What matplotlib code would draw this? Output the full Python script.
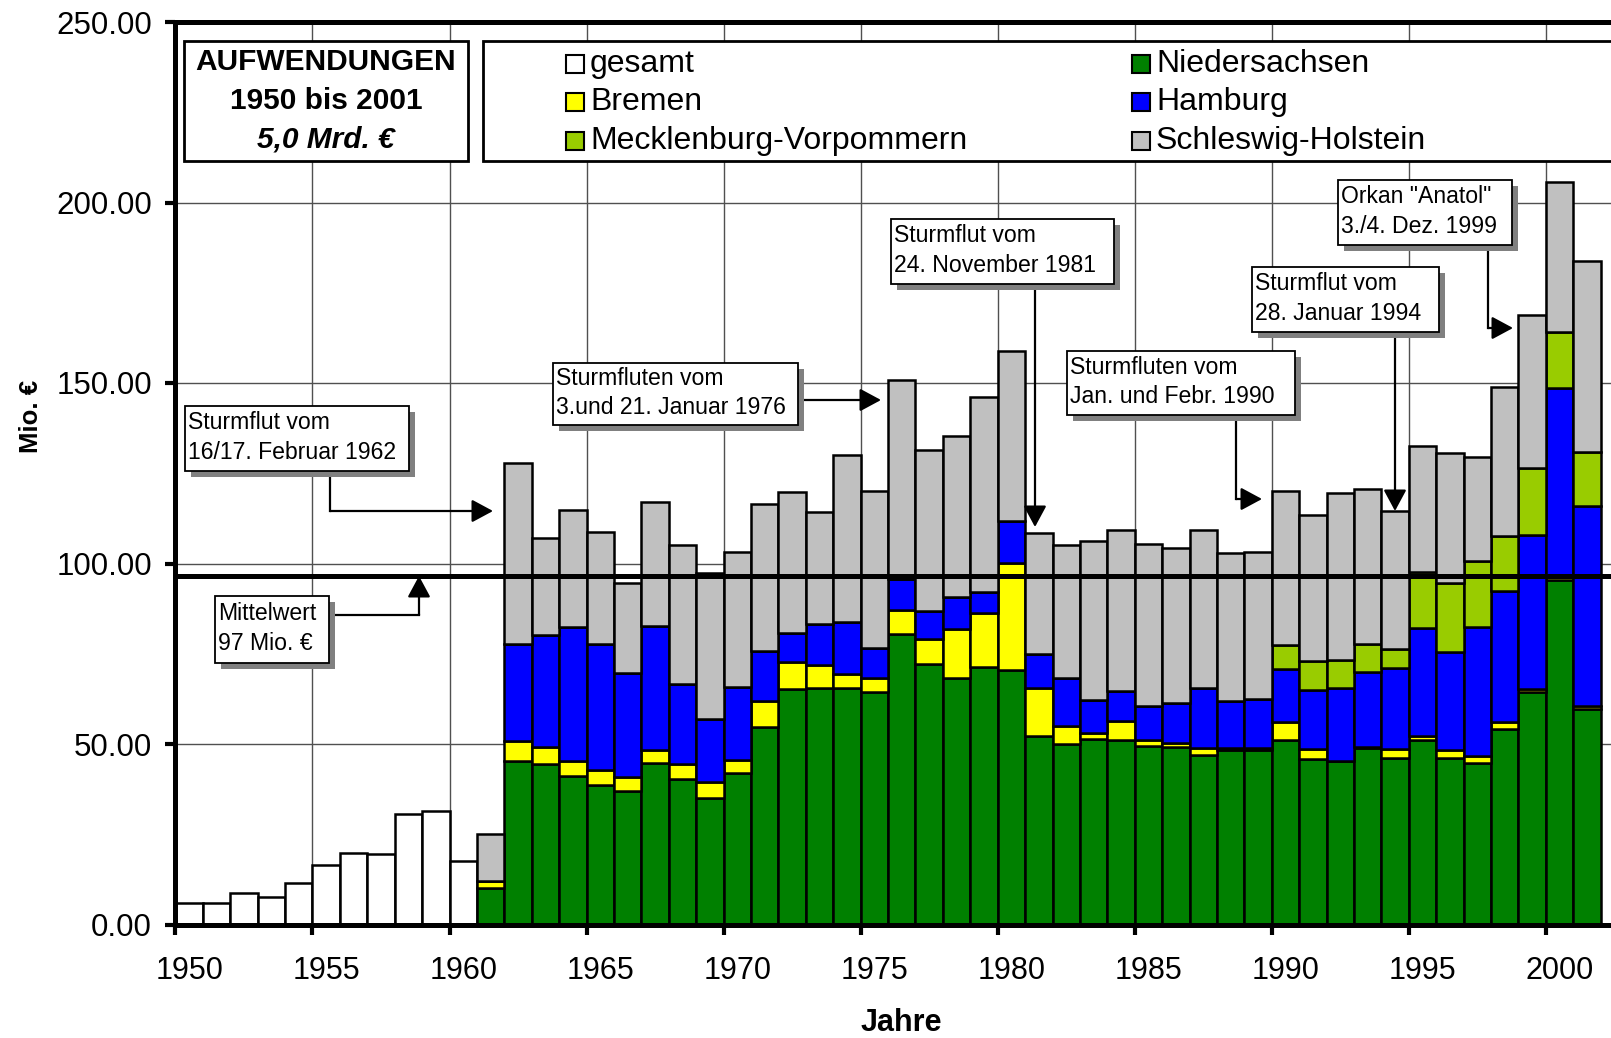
import numpy as np
import matplotlib.pyplot as plt
from matplotlib.patches import Rectangle, FancyArrowPatch
from matplotlib.lines import Line2D

plt.rcParams['font.family'] = ['Liberation Sans', 'DejaVu Sans']

W_PX, H_PX = 1611, 1038

jahre = list(range(1950, 2002))

# 1950-1960: nur Gesamtwerte (Mio. EUR)
gesamt = [6.0, 6.0, 8.6, 7.7, 11.5, 16.6, 19.9, 19.4, 30.6, 31.5, 17.5]

# 1961-2001 nach Laendern (Mio. EUR)
niedersachsen = [10.2, 45.2, 44.5, 41.2, 38.7, 36.9, 44.7, 40.4, 35.1, 42.0,
                 54.8, 65.3, 65.5, 65.6, 64.3, 80.4, 72.2, 68.2, 71.2, 70.6,
                 52.3, 50.0, 51.5, 51.2, 49.5, 49.3, 46.9, 48.3, 48.3, 51.0,
                 45.9, 45.2, 48.9, 46.2, 51.0, 46.2, 44.6, 54.2, 64.3, 95.4, 59.6]
bremen = [1.8, 5.5, 4.7, 4.0, 4.1, 4.0, 3.6, 4.0, 4.3, 3.6,
          7.2, 7.4, 6.4, 3.8, 4.1, 6.8, 6.9, 13.6, 15.0, 29.6,
          13.2, 5.1, 1.6, 5.2, 1.7, 1.0, 2.1, 0.6, 0.6, 5.0,
          2.7, 0.2, 0.2, 2.4, 1.2, 2.0, 2.0, 1.8, 1.0, 1.0, 0.8]
hamburg = [0.0, 27.1, 31.0, 37.2, 35.0, 28.9, 34.5, 22.1, 17.4, 20.2,
           13.7, 8.1, 11.3, 14.5, 8.3, 8.4, 7.8, 9.0, 5.8, 11.7,
           9.3, 13.3, 9.1, 8.4, 9.2, 11.1, 16.5, 13.1, 13.5, 14.7,
           16.3, 20.2, 20.9, 22.5, 29.9, 27.4, 35.9, 36.4, 42.6, 52.3, 55.4]
meck_vorp = [0.0] * 29 + [6.7, 8.2, 7.8, 7.6, 5.3, 15.6, 19.0, 18.3, 15.1,
                          18.6, 15.3, 15.1]
schleswig_holstein = [13.1, 50.0, 26.8, 32.3, 30.8, 24.9, 34.2, 38.6, 40.6, 37.5,
                      40.8, 39.1, 31.1, 46.2, 43.4, 55.2, 44.5, 44.6, 54.1, 47.0,
                      33.6, 36.7, 44.1, 44.4, 45.0, 42.9, 43.7, 40.9, 40.9, 42.8,
                      40.4, 46.1, 43.0, 38.1, 34.8, 35.9, 28.8, 41.5, 42.3, 41.6, 52.9]
mittelwert = 96.5

laender = [
    ('Niedersachsen', niedersachsen, '#008000'),
    ('Bremen', bremen, '#FFFF00'),
    ('Hamburg', hamburg, '#0000FF'),
    ('Mecklenburg-Vorpommern', meck_vorp, '#99CC00'),
    ('Schleswig-Holstein', schleswig_holstein, '#C0C0C0'),
]

fig = plt.figure(figsize=(W_PX / 100, H_PX / 100), dpi=100)


def fx(x):
    return x / W_PX


def fy(y):
    return 1 - y / H_PX


# plot area, extends past the right edge like the original
left_px, right_px, top_px, bottom_px = 175.4, 1640.0, 22.0, 924.5
ax = fig.add_axes([fx(left_px), fy(bottom_px), fx(right_px - left_px),
                   (bottom_px - top_px) / H_PX])

x = np.arange(len(jahre))
n0 = len(gesamt)
ax.bar(x[:n0], gesamt, width=1.0, color='white', edgecolor='black',
       linewidth=1.8, zorder=2)
bottom = np.zeros(len(jahre) - n0)
for name, vals, col in laender:
    vals = np.array(vals)
    ax.bar(x[n0:], vals, width=1.0, bottom=bottom, color=col,
           edgecolor='black', linewidth=1.8, zorder=2)
    bottom = bottom + vals

ax.axhline(mittelwert, color='black', lw=3.6, zorder=4)

ax.set_xlim(-0.5, -0.5 + (right_px - left_px) / 27.41)
ax.set_ylim(0, 250)
ax.set_yticks(np.arange(0, 251, 50))
ax.set_yticklabels([f'{v:.2f}' for v in np.arange(0, 251, 50)])
ax.set_xticks(x[::5])
ax.set_xticklabels([str(j) for j in jahre[::5]])
ax.set_xticks(x[::5] - 0.5, minor=True)
ax.tick_params(axis='y', which='major', direction='out', length=7, width=3,
               labelsize=22.5, pad=10)
ax.tick_params(axis='x', which='major', length=0, labelsize=22, pad=23)
ax.tick_params(axis='x', which='minor', direction='out', length=7, width=3)
ax.grid(axis='y', which='major', color='#505050', lw=1.0)
ax.grid(axis='x', which='minor', color='#505050', lw=1.0)
ax.set_axisbelow(True)
for s in ['left', 'bottom', 'top']:
    ax.spines[s].set_linewidth(3.6)
ax.spines['right'].set_visible(False)

fig.text(fx(31), fy(416), 'Mio. €', rotation=90, ha='center', va='center',
         fontsize=18.5, fontweight='bold')
fig.text(fx(901), fy(1023), 'Jahre', ha='center', va='center',
         fontsize=22, fontweight='bold')


def box(x0, y0, x1, y1, lw=1.5, shadow=False):
    if shadow:
        fig.add_artist(Rectangle((fx(x0 + 6), fy(y1 + 6)), fx(x1 - x0), (y1 - y0) / H_PX,
                                 transform=fig.transFigure, facecolor='#808080',
                                 edgecolor='none', zorder=8))
    fig.add_artist(Rectangle((fx(x0), fy(y1)), fx(x1 - x0), (y1 - y0) / H_PX,
                             transform=fig.transFigure, facecolor='white',
                             edgecolor='black', lw=lw, zorder=9))


# title box
box(184, 41, 468, 161, lw=2.0)
fig.text(fx(326), fy(62), 'AUFWENDUNGEN', ha='center', va='center',
         fontsize=21.5, fontweight='bold', zorder=10)
fig.text(fx(326), fy(101), '1950 bis 2001', ha='center', va='center',
         fontsize=21.5, fontweight='bold', zorder=10)
fig.text(fx(326), fy(139), '5,0 Mrd. €', ha='center', va='center',
         fontsize=21.5, fontweight='bold', style='italic', zorder=10)

# legend box
box(483, 41, 1650, 161, lw=2.0)
leg_items = [('gesamt', 'white'), ('Bremen', '#FFFF00'),
             ('Mecklenburg-Vorpommern', '#99CC00'),
             ('Niedersachsen', '#008000'), ('Hamburg', '#0000FF'),
             ('Schleswig-Holstein', '#C0C0C0')]
rows = [64, 102, 141]
cols = [566, 1132]
for i, (lab, col) in enumerate(leg_items):
    cx = cols[i // 3]
    cy = rows[i % 3]
    fig.add_artist(Rectangle((fx(cx), fy(cy + 9)), fx(18), 18 / H_PX,
                             transform=fig.transFigure, facecolor=col,
                             edgecolor='black', lw=1.5, zorder=10))
    fig.text(fx(cx + 24), fy(cy), lab, ha='left', va='center',
             fontsize=23, zorder=10)


def callout(x0, y0, x1, y1, text, path):
    box(x0, y0, x1, y1, lw=1.3, shadow=True)
    fig.text(fx(x0 + 3), fy((y0 + y1) / 2 - 1), text, ha='left', va='center',
             fontsize=16.6, linespacing=1.36, zorder=10)
    pts = [(fx(px), fy(py)) for px, py in path]
    if len(pts) > 2:
        xs, ys = zip(*pts[:-1])
        fig.add_artist(Line2D(xs, ys, transform=fig.transFigure, color='black',
                              lw=1.6, zorder=7))
    fig.add_artist(FancyArrowPatch(pts[-2], pts[-1], transform=fig.transFigure,
                                   arrowstyle='-|>,head_length=0.65,head_width=0.35',
                                   mutation_scale=20, color='black', lw=1.6,
                                   shrinkA=0, shrinkB=0, zorder=7))


callout(185, 406, 409, 471, 'Sturmflut vom\n16/17. Februar 1962',
        [(330, 471), (330, 511), (493, 511)])
callout(215, 596, 329, 663, 'Mittelwert\n97 Mio. €',
        [(333, 615), (419, 615), (419, 576)])
callout(553, 363, 798, 425, 'Sturmfluten vom\n3.und 21. Januar 1976',
        [(800, 400), (881, 400)])
callout(891, 219, 1114, 284, 'Sturmflut vom\n24. November 1981',
        [(1035, 284), (1035, 527)])
callout(1067, 351, 1295, 415, 'Sturmfluten vom\nJan. und Febr. 1990',
        [(1236, 415), (1236, 499), (1262, 499)])
callout(1252, 267, 1439, 332, 'Sturmflut vom\n28. Januar 1994',
        [(1395, 332), (1395, 511)])
callout(1338, 180, 1512, 245, 'Orkan "Anatol"\n3./4. Dez. 1999',
        [(1488, 245), (1488, 328), (1513, 328)])

fig.savefig('out.png', dpi=100)
